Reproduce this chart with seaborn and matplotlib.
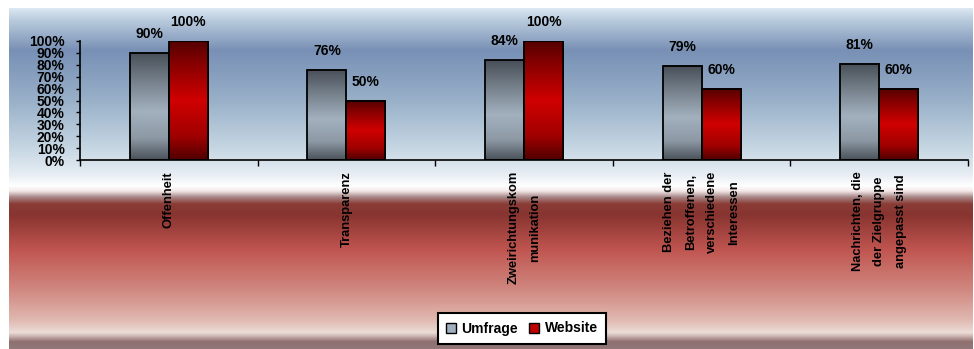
import numpy as np
import pandas as pd
import seaborn as sns
import matplotlib.pyplot as plt
from matplotlib.colors import to_rgb
from matplotlib.patches import Patch

# ---- data ----
categories = ["Offenheit", "Transparenz", "Zweirichtungskom\nmunikation",
              "Beziehen der\nBetroffenen,\nverschiedene\nInteressen",
              "Nachrichten, die\nder Zielgruppe\nangepasst sind"]
series_names = ["Umfrage", "Website"]
umfrage = [0.90, 0.76, 0.84, 0.79, 0.81]
website = [1.00, 0.50, 1.00, 0.60, 0.60]
y_ticks = [0.0, 0.1, 0.2, 0.3, 0.4, 0.5, 0.6, 0.7, 0.8, 0.9, 1.0]
y_tick_labels = ["0%", "10%", "20%", "30%", "40%", "50%", "60%", "70%", "80%", "90%", "100%"]

sns.set_theme(style="white")
plt.rcParams['font.family'] = ['Liberation Sans', 'DejaVu Sans']
plt.rcParams['text.color'] = 'black'
plt.rcParams['xtick.color'] = 'black'
plt.rcParams['ytick.color'] = 'black'
plt.rcParams['xtick.labelcolor'] = 'black'
plt.rcParams['ytick.labelcolor'] = 'black'

W, H = 974, 349
fig = plt.figure(figsize=(W / 100, H / 100), dpi=100)


def grad_rows(stops, n):
    ys = np.array([s[0] for s in stops], float)
    cols = np.array([to_rgb(s[1]) for s in stops])
    t = np.linspace(ys[0], ys[-1], n)
    out = np.stack([np.interp(t, ys, cols[:, k]) for k in range(3)], axis=1)
    return out[:, None, :]


# ---- background gradient ----
bg_stops = [(8, "#dce8f2"), (20, "#b8cadc"), (50, "#7890b5"), (100, "#98b0c8"),
            (150, "#c8d8e4"), (175, "#e8eef4"), (186, "#ffffff"), (191, "#f4e8e8"),
            (197, "#a88888"), (204, "#8a3c36"), (215, "#883430"), (250, "#c05550"),
            (290, "#d08880"), (320, "#e0b8b0"), (333, "#ecdcd8"), (337, "#c8b0ac"),
            (342, "#907070"), (349, "#907878")]
bg = fig.add_axes([9 / W, 0, (973 - 9) / W, (349 - 8) / H], zorder=0)
bg.imshow(grad_rows(bg_stops, 341), aspect='auto', extent=[0, 1, 0, 1])
bg.set_axis_off()

# ---- main axes ----
ax = fig.add_axes([80 / W, 1 - 160 / H, (968 - 80) / W, 119 / H], zorder=1)
ax.patch.set_alpha(0)

df = pd.DataFrame({
    "Kategorie": categories * 2,
    "Serie": [series_names[0]] * len(categories) + [series_names[1]] * len(categories),
    "Wert": umfrage + website,
})
sns.barplot(data=df, x="Kategorie", y="Wert", hue="Serie",
            palette=["#a0b0c0", "#c00000"], width=0.44, saturation=1,
            edgecolor="black", linewidth=1.3, legend=False, ax=ax)

gray_stops = [(0, "#474e57"), (0.2, "#6a747e"), (0.55, "#a3b1bf"), (0.8, "#8c98a4"), (1, "#4a525a")]
red_stops = [(0, "#550000"), (0.2, "#8a0000"), (0.5, "#d00000"), (0.8, "#a00000"), (1, "#500000")]

ax.set_xlim(-0.5, 4.5)
ax.set_ylim(0, 1)
for cont, vals, stops in zip(ax.containers, [umfrage, website], [gray_stops, red_stops]):
    g = grad_rows(stops, 200)
    for p, v in zip(cont.patches, vals):
        x0, w, h = p.get_x(), p.get_width(), p.get_height()
        ax.imshow(g, aspect='auto', extent=[x0, x0 + w, 0, h], zorder=p.get_zorder() - 0.05,
                  interpolation='bilinear')
        p.set_facecolor('none')
        ax.annotate(f"{v * 100:.0f}%", (x0 + w / 2, h), xytext=(0, 13.5),
                    textcoords='offset points', ha='center', va='center',
                    fontsize=10, fontweight='bold', color='black')
ax.set_xlim(-0.5, 4.5)
ax.set_ylim(0, 1)
ax.set_aspect('auto')

# axes styling
for s in ["top", "right"]:
    ax.spines[s].set_visible(False)
for s in ["left", "bottom"]:
    ax.spines[s].set_color("black")
    ax.spines[s].set_linewidth(1.2)

ax.set_yticks(y_ticks)
ax.set_yticklabels(y_tick_labels, fontsize=10, fontweight='bold', color='black')
ax.tick_params(axis='y', direction='out', length=3, width=1, color='black', pad=8, left=True)

ax.set_xticks(range(len(categories)))
ax.set_xticklabels(categories, rotation=90, fontsize=9.3, fontweight='bold', color='black',
                   ha='center', va='top', multialignment='center', linespacing=2.05)
ax.set_xticks([i - 0.5 for i in range(len(categories) + 1)], minor=True)
ax.tick_params(axis='x', which='major', length=0, pad=8)
ax.tick_params(axis='x', which='minor', direction='out', length=4, width=1, color='black', bottom=True)
ax.set_xlabel("")
ax.set_ylabel("")
ax.grid(False)

# legend
handles = [Patch(facecolor="#a0b0c0", edgecolor="black", linewidth=1),
           Patch(facecolor="#c00000", edgecolor="black", linewidth=1)]
leg = fig.legend(handles, series_names, loc='center', bbox_to_anchor=(522 / W, 1 - 328.5 / H),
                 ncol=2, frameon=True, fancybox=False, edgecolor='black', framealpha=1,
                 prop={'size': 10, 'weight': 'bold'}, handlelength=0.7, handleheight=0.7,
                 columnspacing=0.8, handletextpad=0.4, borderpad=0.6)
for t in leg.get_texts():
    t.set_color('black')
leg.get_frame().set_linewidth(1.5)
leg.set_zorder(5)

fig.savefig("out.png", dpi=100)
